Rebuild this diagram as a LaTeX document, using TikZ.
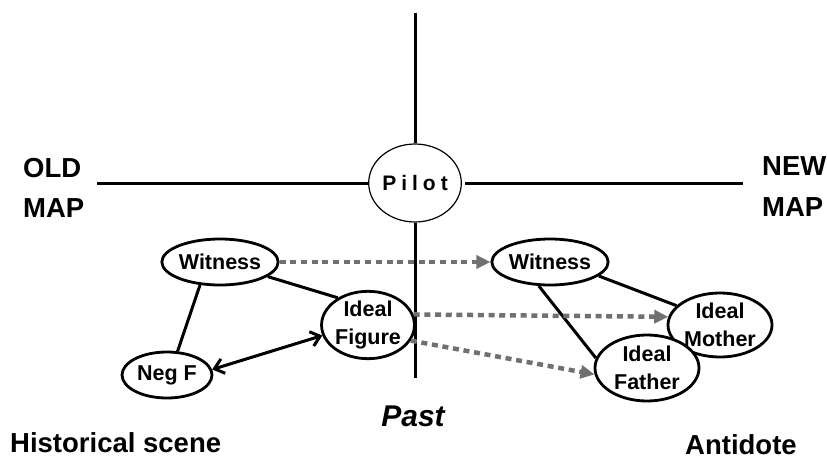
\documentclass[tikz,border=0pt]{standalone}
\usepackage{fontspec}
\setmainfont{Liberation Sans}
\usetikzlibrary{shapes.geometric,arrows.meta}
\definecolor{dgray}{HTML}{707070}
\begin{document}
\begin{tikzpicture}[x=1pt,y=-1pt,
  ent/.style={ellipse, draw, line width=2.8pt, fill=white, inner sep=0pt,
    font=\fontsize{21.5}{27.5}\selectfont\bfseries, align=center},
  link/.style={line width=3pt},
  axis/.style={line width=3pt},
  gdash/.style={draw=dgray, line width=4.5pt, dash pattern=on 6pt off 4.7pt,
    -{Triangle[length=14pt,width=13pt]}},
  dbl/.style={line width=3pt, {Straight Barb[length=9pt,width=15pt]}-{Straight Barb[length=9pt,width=15pt]}},
  lab/.style={font=\fontsize{27.5}{32}\selectfont\bfseries, inner sep=0pt}]
\useasboundingbox (0,0) rectangle (827,460);

% axes
\coordinate (top) at (415,13);
\coordinate (bot) at (415,378);
\coordinate (lend) at (97,183);
\coordinate (rend) at (743,183);
\node[ellipse, draw, line width=1.2pt, fill=white, minimum width=86pt, minimum height=78pt, inner sep=0pt,
  font=\fontsize{21}{24}\selectfont\bfseries] (pilot) at (415,183) {P\hspace{5pt}i\hspace{5pt}l\hspace{5pt}o\hspace{5pt}t};
\draw[axis] (top) -- (pilot.north);
\draw[axis] (pilot.south) -- (bot);
\draw[axis] (lend) -- (pilot.west);
\draw[axis] ([xshift=3pt]pilot.east) -- (rend);

% labels
\node[lab, anchor=west] (old) at (23,168) {OLD};
\node[lab, anchor=west] (mapl) at (23,208) {MAP};
\node[lab, anchor=west] (new) at (762,166) {NEW};
\node[lab, anchor=west] (mapr) at (762,207) {MAP};
\node[lab, font=\fontsize{30}{34}\selectfont\bfseries\itshape] (past) at (413,416) {Past};
\node[lab, anchor=west] (hist) at (10,443) {Historical scene};
\node[lab, anchor=west] (anti) at (685,445) {Antidote};

% entities
\node[ent, minimum width=104pt, minimum height=46pt] (wl) at (220,262) {Witness};
\node[ent, minimum width=90pt, minimum height=66pt] (fig) at (368,325) {Ideal\\Figure};
\node[ent, minimum width=90pt, minimum height=46pt] (negf) at (167,375) {Neg F};
\node[ent, minimum width=105pt, minimum height=46pt] (wr) at (550,262) {Witness};
\node[ent, minimum width=104pt, minimum height=64pt] (mother) at (720,325) {Ideal\\Mother};
\node[ent, minimum width=104pt, minimum height=66pt] (father) at (647,368) {Ideal\\Father};

% solid links
\draw[link] (wl.229) -- (negf.66);
\draw[link] (wl.343) -- (fig.138);
\draw[dbl] (negf.7) -- (fig.193);
\draw[link] (wr.344) -- (mother.156);
\draw[link] (wr.245) -- (father.169);

% dashed transfers
\draw[gdash] (wl.east) -- (wr.west);
\draw[gdash] (fig.13) -- (mother.171);
\draw[gdash] (fig.340) -- (father.187);
\end{tikzpicture}
\end{document}
